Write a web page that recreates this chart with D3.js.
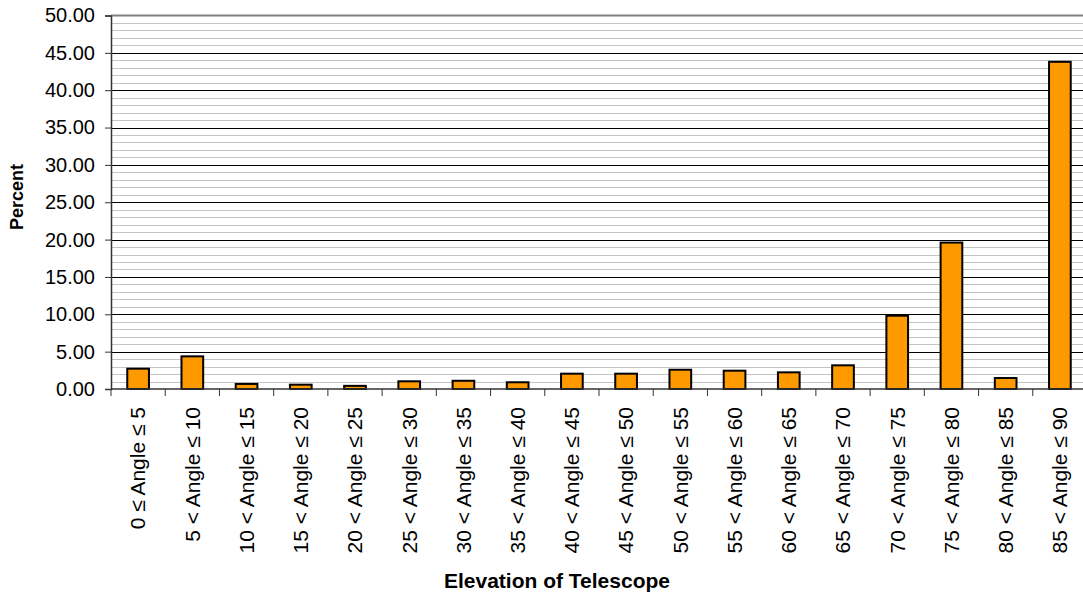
<!DOCTYPE html>
<html><head><meta charset="utf-8">
<script src="https://cdn.jsdelivr.net/npm/d3@7"></script>
<style>body{margin:0;background:#fff;}svg{display:block;font-family:"Liberation Sans",Arial,sans-serif;}</style>
</head><body>
<script>
const categories = ["0 ≤ Angle ≤ 5","5 < Angle ≤ 10","10 < Angle ≤ 15","15 < Angle ≤ 20","20 < Angle ≤ 25","25 < Angle ≤ 30","30 < Angle ≤ 35","35 < Angle ≤ 40","40 < Angle ≤ 45","45 < Angle ≤ 50","50 < Angle ≤ 55","55 < Angle ≤ 60","60 < Angle ≤ 65","65 < Angle ≤ 70","70 < Angle ≤ 75","75 < Angle ≤ 80","80 < Angle ≤ 85","85 < Angle ≤ 90"];
const percent = [2.72, 4.37, 0.68, 0.58, 0.42, 1.03, 1.1, 0.9, 2.05, 2.05, 2.58, 2.45, 2.23, 3.17, 9.81, 19.6, 1.47, 43.8];
const yTicks = [0,5,10,15,20,25,30,35,40,45,50];
const minorTicks = d3.range(0, 51, 1);
const yTitle = "Percent";
const xTitle = "Elevation of Telescope";

const W = 1083, H = 598;
const mLeft = 111, mRight = 1087, mTop = 15.5, mBottom = 389;
const svg = d3.select("body").append("svg").attr("width", W).attr("height", H);

const x = d3.scaleBand().domain(categories).range([mLeft, mRight]).paddingInner(0.6).paddingOuter(0.3);
const xb = d3.scaleBand().domain(categories).range([mLeft, mRight]);
const y = d3.scaleLinear().domain([0, 50]).range([mBottom, mTop]);

// minor grid
svg.append("g").selectAll("line").data(minorTicks.filter(d => d % 5 !== 0)).join("line")
  .attr("x1", mLeft).attr("x2", mRight).attr("y1", d => Math.round(y(d)) + 0.5).attr("y2", d => Math.round(y(d)) + 0.5)
  .attr("stroke", "#c4c4c4").attr("stroke-width", 1);
// major grid
svg.append("g").selectAll("line").data(yTicks.filter(d => d > 0 && d < 50)).join("line")
  .attr("x1", mLeft).attr("x2", mRight).attr("y1", d => Math.round(y(d)) + 0.5).attr("y2", d => Math.round(y(d)) + 0.5)
  .attr("stroke", "#000").attr("stroke-width", 1);
// top border
svg.append("line").attr("x1", mLeft).attr("x2", mRight).attr("y1", y(50)).attr("y2", y(50))
  .attr("stroke", "#808080").attr("stroke-width", 2);

// bars
svg.append("g").selectAll("rect").data(percent).join("rect")
  .attr("x", (d, i) => x(categories[i]))
  .attr("width", x.bandwidth())
  .attr("y", d => y(d))
  .attr("height", d => y(0) - y(d))
  .attr("fill", "#FF9900").attr("stroke", "#000").attr("stroke-width", 2);

// y axis
const yAxis = svg.append("g").attr("transform", `translate(${mLeft},0)`)
  .call(d3.axisLeft(y).tickValues(yTicks).tickFormat(d3.format(".2f")).tickSize(6).tickPadding(10));
yAxis.select(".domain").attr("stroke", "#333").attr("stroke-width", 1.5);
yAxis.selectAll(".tick line").attr("stroke", "#333");
yAxis.selectAll("text").attr("font-size", 20).attr("fill", "#000").attr("font-family", "Liberation Sans, Arial, sans-serif");

// x axis
const xg = svg.append("g").attr("transform", `translate(0,${mBottom})`);
xg.append("line").attr("x1", mLeft).attr("x2", mRight).attr("y1", 0).attr("y2", 0).attr("stroke", "#333").attr("stroke-width", 1.5);
xg.selectAll("line.t").data(categories.concat(["end"])).join("line").attr("class", "t")
  .attr("x1", (d, i) => i < categories.length ? xb(d) : xb(categories[categories.length-1]) + xb.bandwidth())
  .attr("x2", (d, i) => i < categories.length ? xb(d) : xb(categories[categories.length-1]) + xb.bandwidth())
  .attr("y1", 0).attr("y2", 7).attr("stroke", "#333");
xg.selectAll("text").data(categories).join("text")
  .attr("transform", d => `translate(${xb(d) + xb.bandwidth()/2},18) rotate(-90)`)
  .attr("text-anchor", "end").attr("dy", "0.35em")
  .attr("font-size", 21).attr("fill", "#000")
  .text(d => d);

// titles
svg.append("text").attr("transform", "translate(17,197) rotate(-90)")
  .attr("text-anchor", "middle").attr("dy", "0.35em")
  .attr("font-size", 18).attr("font-weight", "bold").text(yTitle);
svg.append("text").attr("x", 557).attr("y", 581).attr("dy", "0.35em")
  .attr("text-anchor", "middle").attr("font-size", 21).attr("font-weight", "bold").text(xTitle);
</script>
</body></html>
